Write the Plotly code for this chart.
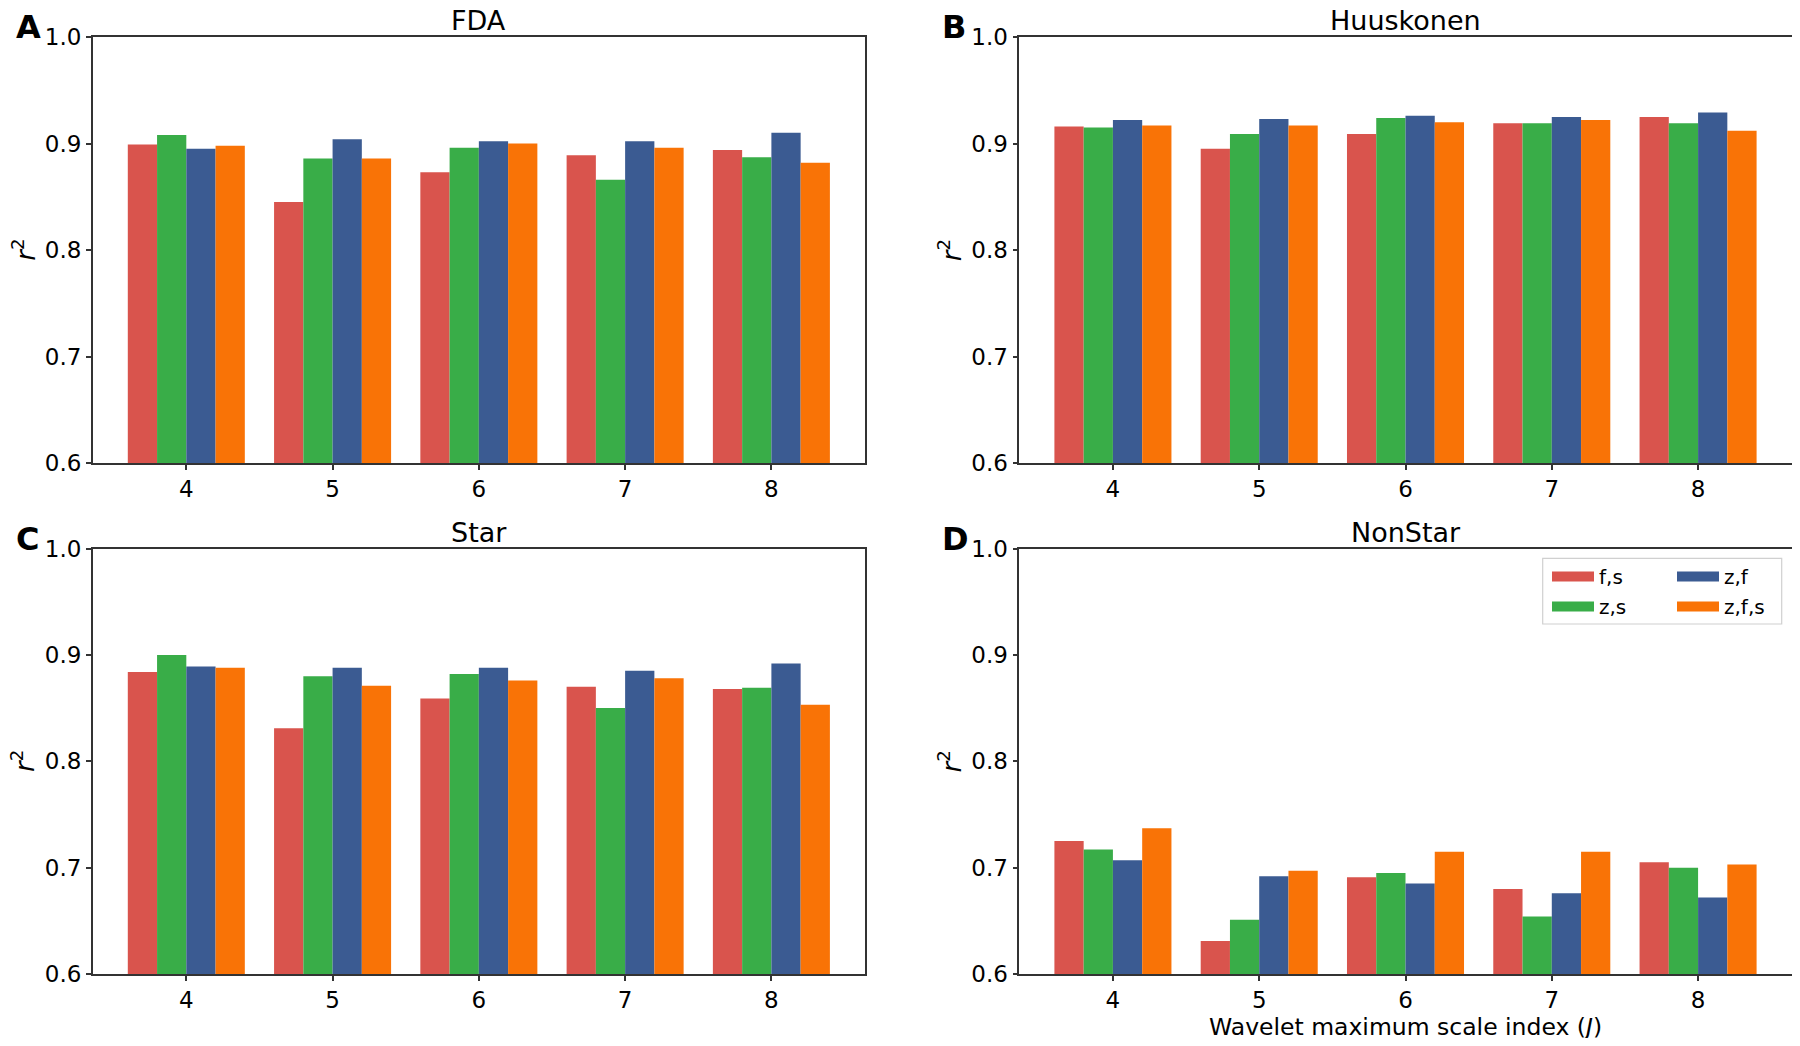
import plotly.graph_objects as go
from plotly.subplots import make_subplots

# ---------------- data ----------------
J = [4, 5, 6, 7, 8]
series_names = ["f,s", "z,s", "z,f", "z,f,s"]
colors = ["#d9544d", "#39ad48", "#3b5b92", "#f97306"]

panel_titles = ["FDA", "Huuskonen", "Star", "NonStar"]
panel_letters = ["A", "B", "C", "D"]

fda_fs = [0.899, 0.845, 0.873, 0.889, 0.894]
fda_zs = [0.908, 0.886, 0.896, 0.866, 0.887]
fda_zf = [0.895, 0.904, 0.902, 0.902, 0.910]
fda_zfs = [0.898, 0.886, 0.900, 0.896, 0.882]

huu_fs = [0.916, 0.895, 0.909, 0.919, 0.925]
huu_zs = [0.915, 0.909, 0.924, 0.919, 0.919]
huu_zf = [0.922, 0.923, 0.926, 0.925, 0.929]
huu_zfs = [0.917, 0.917, 0.920, 0.922, 0.912]

star_fs = [0.884, 0.831, 0.859, 0.870, 0.868]
star_zs = [0.900, 0.880, 0.882, 0.850, 0.869]
star_zf = [0.889, 0.888, 0.888, 0.885, 0.892]
star_zfs = [0.888, 0.871, 0.876, 0.878, 0.853]

non_fs = [0.725, 0.631, 0.691, 0.680, 0.705]
non_zs = [0.717, 0.651, 0.695, 0.654, 0.700]
non_zf = [0.707, 0.692, 0.685, 0.676, 0.672]
non_zfs = [0.737, 0.697, 0.715, 0.715, 0.703]

panels = [
    [fda_fs, fda_zs, fda_zf, fda_zfs],
    [huu_fs, huu_zs, huu_zf, huu_zfs],
    [star_fs, star_zs, star_zf, star_zfs],
    [non_fs, non_zs, non_zf, non_zfs],
]

y_ticks = [0.6, 0.7, 0.8, 0.9, 1.0]
x_title = "Wavelet maximum scale index (<i>J</i>)"
y_title = "<i>r</i><sup>2</sup>"

# ---------------- layout helpers ----------------
# the page body has an 8px margin, so the figure is placed at (8, 8)
OFF = 8
W, H = 1800 - 2 * OFF, 1046 - 2 * OFF
FONT = "DejaVu Sans"
AX = "#333333"


def px(x):
    return (x - OFF) / W


def py(y):
    return 1 - (y - OFF) / H


col_px = [(92.7, 865.0), (1019.3, 1791.7)]
row_px = [(37.0, 463.0), (548.5, 974.0)]

fig = make_subplots(rows=2, cols=2)

for k, vals in enumerate(panels):
    r, c = divmod(k, 2)
    for s, (name, col) in enumerate(zip(series_names, colors)):
        fig.add_trace(
            go.Bar(x=J, y=vals[s], name=name, marker=dict(color=col, line=dict(width=0)),
                   showlegend=False),
            row=r + 1, col=c + 1,
        )

# legend entries (wide swatches), two columns in two legends
for s, (name, col) in enumerate(zip(series_names, colors)):
    fig.add_trace(go.Scatter(
        x=[None], y=[None], mode="lines", name=name,
        line=dict(color=col, width=15),
        legend="legend" if s in (0, 1) else "legend2",
        legendgroup=name, xaxis="x4", yaxis="y4",
    ))

for k in range(4):
    r, c = divmod(k, 2)
    xs = "xaxis" if k == 0 else f"xaxis{k+1}"
    ys = "yaxis" if k == 0 else f"yaxis{k+1}"
    fig.layout[xs].update(
        domain=[px(col_px[c][0]), px(col_px[c][1])],
        range=[3.36, 8.64], tickvals=J, ticktext=[str(v) for v in J],
        showline=True, mirror=True, linecolor=AX, linewidth=1.5,
        ticks="outside", ticklen=5, tickwidth=1.5, tickcolor=AX,
        showgrid=False, zeroline=False, automargin=False,
        tickfont=dict(family=FONT, size=23, color="black"),
    )
    fig.layout[ys].update(
        domain=[py(row_px[r][1]), py(row_px[r][0])],
        range=[0.6, 1.0], tickvals=y_ticks, tickformat=".1f",
        showline=True, mirror=True, linecolor=AX, linewidth=1.5,
        ticks="outside", ticklen=5, tickwidth=1.5, tickcolor=AX,
        showgrid=False, zeroline=False, automargin=False,
        tickfont=dict(family=FONT, size=23, color="black"),
    )

annotations = []
for k in range(4):
    r, c = divmod(k, 2)
    x0, x1 = col_px[c]
    y0, y1 = row_px[r]
    # title
    annotations.append(dict(
        text=panel_titles[k], x=px((x0 + x1) / 2), y=py(y0 - 16.5), xref="paper", yref="paper",
        xanchor="center", yanchor="middle", showarrow=False,
        font=dict(family=FONT, size=27, color="black"),
    ))
    # panel letter
    annotations.append(dict(
        text=f"<b>{panel_letters[k]}</b>", x=px(x0 - 79), y=py(y0 - 10), xref="paper", yref="paper",
        xanchor="left", yanchor="middle", showarrow=False,
        font=dict(family=FONT, size=32, color="black"),
    ))
    # y title
    annotations.append(dict(
        text=y_title, x=px(x0 - 69), y=py((y0 + y1) / 2), xref="paper", yref="paper",
        xanchor="center", yanchor="middle", textangle=-90, showarrow=False,
        font=dict(family=FONT, size=26, color="black"),
    ))

annotations.append(dict(
    text=x_title, x=px((col_px[1][0] + col_px[1][1]) / 2), y=py(1027), xref="paper", yref="paper",
    xanchor="center", yanchor="middle", showarrow=False,
    font=dict(family=FONT, size=23.5, color="black"),
))

leg_common = dict(
    font=dict(family=FONT, size=20, color="black"),
    bgcolor="rgba(0,0,0,0)", borderwidth=0, orientation="v",
    xanchor="left", yanchor="top", tracegroupgap=1, itemwidth=42,
)

fig.update_layout(
    template="none",
    width=W, height=H,
    margin=dict(l=0, r=0, t=0, b=0, autoexpand=False),
    paper_bgcolor="white", plot_bgcolor="white",
    barmode="group", bargap=0.2, bargroupgap=0.0,
    font=dict(family=FONT, color="black"),
    annotations=annotations,
    legend=dict(x=px(1547), y=py(557), **leg_common),
    legend2=dict(x=px(1672), y=py(557), **leg_common),
    shapes=[dict(
        type="rect", xref="paper", yref="paper",
        x0=px(1542.7), x1=px(1781.7), y0=py(624), y1=py(558.3),
        line=dict(color="#d0d0d0", width=1.2), fillcolor="rgba(255,255,255,0.8)",
        layer="above",
    )],
)

fig.write_html("out.html")
